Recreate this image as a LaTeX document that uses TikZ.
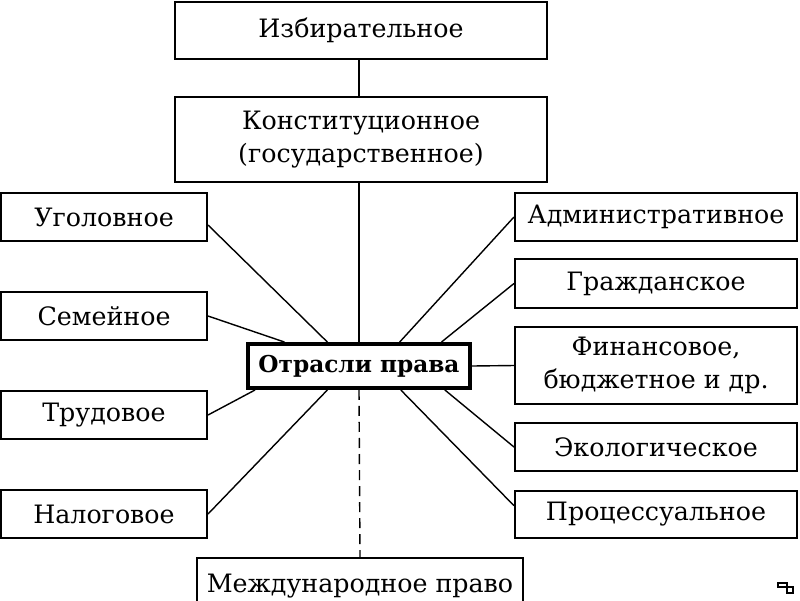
\documentclass[tikz,border=0pt]{standalone}
\usepackage{fontspec}
\setmainfont{DejaVu Serif}
\usetikzlibrary{calc}

\begin{document}
\begin{tikzpicture}[x=0.025cm,y=-0.025cm]
\useasboundingbox (0,0) rectangle (800,600);
                \begin{scope}[line width=1pt,font=\fontsize{18}{23}\selectfont,
                  box/.style={rectangle,draw,line width=1.4pt,inner sep=0pt,align=center},
                  left node/.style={box,minimum width=5.15cm,minimum height=1.2cm},
                  right node/.style={box,minimum width=7.05cm},
                  top node/.style={box,minimum width=9.3cm},
                  main node/.style={box,line width=2.8pt,minimum width=5.55cm,minimum height=1.1cm,font=\fontsize{16.5}{20}\selectfont\bfseries}]
                \node[main node] (law) at (359,366) {Отрасли права};
                \node[top node,minimum height=1.425cm] (elect) at (361,30.5) {Избирательное};
                \node[top node,minimum height=2.125cm] (const) at (361,139.5) {Конституционное\\(государственное)};
                \node[left node] (crim) at (104,217) {Уголовное};
                \node[left node] (fam) at (104,316) {Семейное};
                \node[left node] (labour) at (104,415) {Трудовое};
                \node[left node] (tax) at (104,514) {Налоговое};
                \node[right node,minimum height=1.2cm] (adm) at (656,217) {Административное};
                \node[right node,minimum height=1.225cm] (civ) at (656,283.5) {Гражданское};
                \node[right node,minimum height=1.925cm] (fin) at (656,365.5) {Финансовое,\\бюджетное и др.};
                \node[right node,minimum height=1.2cm] (eco) at (656,447) {Экологическое};
                \node[right node,minimum height=1.175cm] (proc) at (656,514.5) {Процессуальное};
                \node[box,minimum width=8.15cm,minimum height=1.4cm] (intl) at (360,586) {Международное право};
                \path
                (law.north |- elect.south) edge (law.north |- const.north)
                (law.north |- const.south) edge (law.north)
                ([yshift=-0.2cm]crim.east) edge ($(law.north west)!0.36!(law.north east)$)
                (fam.east) edge ($(law.north west)!0.17!(law.north east)$)
                (labour.east) edge ($(law.south west)!0.04!(law.south east)$)
                (tax.east) edge ($(law.south west)!0.36!(law.south east)$)
                (adm.west) edge ($(law.north west)!0.68!(law.north east)$)
                (civ.west) edge ($(law.north west)!0.865!(law.north east)$)
                (fin.west) edge (law.east)
                (eco.west) edge ($(law.south west)!0.88!(law.south east)$)
                ([yshift=0.22cm]proc.west) edge ($(law.south west)!0.685!(law.south east)$);
                \draw[dash pattern=on 0.25cm off 0.15cm] (law.south) -- (intl.north);
                \end{scope}
                % little mark in the corner
                \draw[line width=1pt] (778,583) rectangle (787,587) (787,587) rectangle (793,593);
            \end{tikzpicture}
\end{document}
